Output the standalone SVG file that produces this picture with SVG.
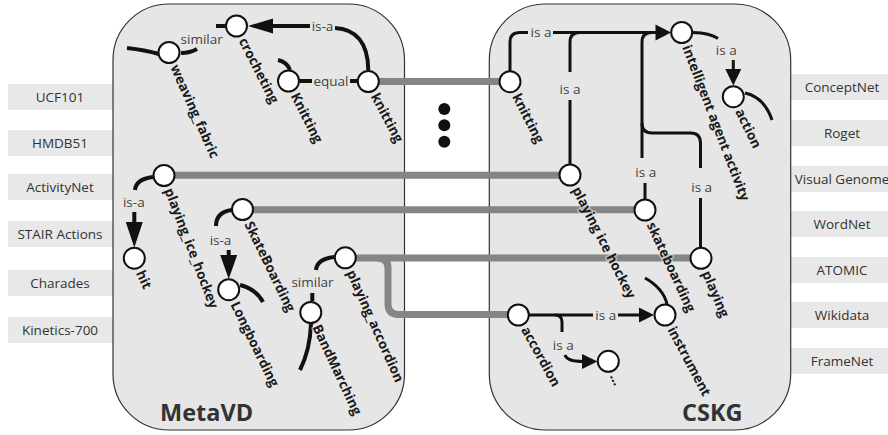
<svg xmlns="http://www.w3.org/2000/svg" width="888" height="435" viewBox="0 0 888 435">
<style>
.box{fill:#e8e8e8}
.boxt{font-family:"Open Sans","Noto Sans",sans-serif;font-size:13.5px;fill:#333;text-anchor:middle}
.panel{fill:#e6e6e6;stroke:#333;stroke-width:1.2}
.big{font-family:"Open Sans","Noto Sans",sans-serif;font-size:23.5px;font-weight:bold;fill:#333}
.grey{fill:none;stroke:#858585;stroke-width:7}
.e{fill:none;stroke:#111;stroke-width:4;stroke-linecap:butt}
.er{fill:none;stroke:#111;stroke-width:3}
.ah{fill:#111}
.n{fill:#fff;stroke:#111;stroke-width:2}
.nl{font-family:"Open Sans","Noto Sans",sans-serif;font-size:13.5px;font-weight:bold;fill:#1a1a1a;paint-order:stroke;stroke:#e6e6e6;stroke-opacity:0.55;stroke-width:3;stroke-linejoin:round}
.el{font-family:"Open Sans","Noto Sans",sans-serif;font-size:13.5px;fill:#444;text-anchor:middle}
</style>
<rect width="888" height="435" fill="#fff"/>
<g id="sources-left">
<rect class="box" x="8" y="84" width="110" height="26"/><text class="boxt" x="60" y="102">UCF101</text>
<rect class="box" x="8" y="130" width="110" height="26"/><text class="boxt" x="60" y="148">HMDB51</text>
<rect class="box" x="8" y="174" width="110" height="26"/><text class="boxt" x="60" y="192">ActivityNet</text>
<rect class="box" x="8" y="221" width="110" height="26"/><text class="boxt" x="60" y="239">STAIR Actions</text>
<rect class="box" x="8" y="270" width="110" height="26"/><text class="boxt" x="60" y="288">Charades</text>
<rect class="box" x="8" y="317" width="110" height="26"/><text class="boxt" x="60" y="335">Kinetics-700</text>
</g>
<g id="sources-right">
<rect class="box" x="785" y="74" width="115" height="26"/><text class="boxt" x="842" y="92">ConceptNet</text>
<rect class="box" x="785" y="120" width="115" height="26"/><text class="boxt" x="842" y="138">Roget</text>
<rect class="box" x="785" y="166" width="115" height="26"/><text class="boxt" x="842" y="184">Visual Genome</text>
<rect class="box" x="785" y="211" width="115" height="26"/><text class="boxt" x="842" y="229">WordNet</text>
<rect class="box" x="785" y="257" width="115" height="26"/><text class="boxt" x="842" y="275">ATOMIC</text>
<rect class="box" x="785" y="302" width="115" height="26"/><text class="boxt" x="842" y="320">Wikidata</text>
<rect class="box" x="785" y="348" width="115" height="26"/><text class="boxt" x="842" y="366">FrameNet</text>
</g>
<g id="panel-metavd">
<rect class="panel" x="113" y="4" width="291.5" height="426" rx="56" ry="56"/>
<text class="big" x="160" y="421">MetaVD</text>
</g>
<g id="panel-cskg">
<rect class="panel" x="489.3" y="4" width="301.4" height="426" rx="56" ry="56"/>
<text class="big" x="682" y="421">CSKG</text>
</g>
<g id="ellipsis">
<circle cx="444.3" cy="109" r="6" fill="#111"/>
<circle cx="444.3" cy="125.3" r="6" fill="#111"/>
<circle cx="444.3" cy="141.7" r="6" fill="#111"/>
</g>
<g id="connectors">
<path class="grey" d="M368.3,81.5 H510"/>
<path class="grey" d="M164,175.3 H570"/>
<path class="grey" d="M242.5,209.8 H645"/>
<path class="grey" d="M345.3,258 H701"/>
<path class="grey" d="M377,258 Q388,258 388,268 V304 Q388,314 398,314.5 H518.3"/>
<path class="e" d="M335,28 C355,29 368,42 368.3,70"/>
<path class="e" d="M310,26 H270"/>
<polygon class="ah" points="248,26 273,18.5 273,33.5"/>
<path class="e" d="M216,26 H226"/>
<path class="e" d="M181,53 Q190,53 197,49"/>
<path class="e" d="M127,48 Q145,50 159,54"/>
<path class="e" d="M278,60 Q287,62 290,70"/>
<path class="e" d="M300,81 H312 M350,81 H357"/>
<path class="e" d="M135,190 Q136,179 153,177"/>
<path class="e" d="M134.3,212 V223"/>
<polygon class="ah" points="134.3,247.5 125.8,222 142.8,222"/>
<path class="e" d="M216,226 Q216,212 232,210"/>
<path class="e" d="M228.7,250 V256"/>
<polygon class="ah" points="228.7,279 220.2,255 237.2,255"/>
<path class="e" d="M240,285 Q256,289 263,302"/>
<path class="e" d="M316,270 Q317,259 334,257"/>
<path class="e" d="M312.3,293 V301"/>
<path class="e" d="M311,324 Q310,350 300,370"/>
<path class="er" d="M510,71 V42 Q510,32.5 520,32.5 H528 M553,32.5 H657"/>
<path class="er" d="M570,164 V100 M570,72 V42 Q570,32.5 580,32.5 H600"/>
<path class="er" d="M645,199 V183 M642,158 V42 Q642,32.5 652,32.5 H657"/>
<path class="er" d="M700.5,247 V198 M700.5,168 V143 Q700.5,133 690.5,133 H652 Q642,133 642,123"/>
<polygon class="ah" points="671,32.5 655.5,24.5 655.5,40.5"/>
<path class="er" d="M693,32.5 Q710,33 718,38.5"/>
<path class="er" d="M733.3,60 V70"/>
<polygon class="ah" points="733.3,85.5 725.3,69 741.3,69"/>
<path class="er" d="M745,93 Q764,97 772,120"/>
<path class="er" d="M529,315 H593 M618,315 H640"/>
<polygon class="ah" points="654,315 639,307.5 639,322.5"/>
<path class="er" d="M555,315 Q562,315 562,322 V332"/>
<path class="er" d="M565,355 Q567,361.5 583,361.5"/>
<polygon class="ah" points="597.5,361.5 582,354 582,369"/>
<path class="er" d="M645,278 Q663,288 667,304"/>
</g>
<g id="edge-labels">
<text class="el" x="322.5" y="30.5">is-a</text>
<text class="el" x="201.7" y="44">similar</text>
<text class="el" x="331" y="85.5">equal</text>
<text class="el" x="133.8" y="206.5">is-a</text>
<text class="el" x="220.5" y="245">is-a</text>
<text class="el" x="312.5" y="286.5">similar</text>
<text class="el" x="541" y="37">is a</text>
<text class="el" x="570" y="93.5">is a</text>
<text class="el" x="645.8" y="176.5">is a</text>
<text class="el" x="701.7" y="191.5">is a</text>
<text class="el" x="726.3" y="54.5">is a</text>
<text class="el" x="605.8" y="319.5">is a</text>
<text class="el" x="563.3" y="349.5">is a</text>
</g>
<g id="n-crocheting"><circle class="n" cx="236.5" cy="26" r="10.5"/><text class="nl" transform="translate(236.5,26) rotate(63)" x="14" y="5">crocheting</text></g>
<g id="n-weaving_fabric"><circle class="n" cx="169" cy="52.5" r="10.5"/><text class="nl" transform="translate(169,52.5) rotate(66)" x="14" y="5">weaving_fabric</text></g>
<g id="n-Knitting"><circle class="n" cx="288.5" cy="81" r="10.5"/><text class="nl" transform="translate(288.5,81) rotate(63)" x="14" y="5">Knitting</text></g>
<g id="n-knitting-m"><circle class="n" cx="368.3" cy="81.5" r="10.5"/><text class="nl" transform="translate(368.3,81.5) rotate(62)" x="14" y="5">knitting</text></g>
<g id="n-playing_ice_hockey"><circle class="n" cx="164" cy="175.5" r="10.5"/><text class="nl" transform="translate(164,175.5) rotate(69)" x="14" y="5">playing_ice_hockey</text></g>
<g id="n-hit"><circle class="n" cx="134.3" cy="258.2" r="10.5"/><text class="nl" transform="translate(134.3,258.2) rotate(65)" x="14" y="5">hit</text></g>
<g id="n-SkateBoarding"><circle class="n" cx="242.5" cy="209.5" r="10.5"/><text class="nl" transform="translate(242.5,209.5) rotate(64)" x="14" y="5">SkateBoarding</text></g>
<g id="n-Longboarding"><circle class="n" cx="228.7" cy="289.7" r="10.5"/><text class="nl" transform="translate(228.7,289.7) rotate(64)" x="14" y="5">Longboarding</text></g>
<g id="n-playing_accordion"><circle class="n" cx="345.3" cy="257.8" r="10.5"/><text class="nl" transform="translate(345.3,257.8) rotate(66)" x="14" y="5">playing_accordion</text></g>
<g id="n-BandMarching"><circle class="n" cx="310.8" cy="312.5" r="10.5"/><text class="nl" transform="translate(310.8,312.5) rotate(65)" x="14" y="5">BandMarching</text></g>
<g id="n-knitting-c"><circle class="n" cx="510" cy="81.7" r="10.5"/><text class="nl" transform="translate(510,81.7) rotate(63)" x="14" y="5">knitting</text></g>
<g id="n-intelligent"><circle class="n" cx="681.7" cy="32.5" r="10.5"/><text class="nl" transform="translate(681.7,32.5) rotate(69)" x="14" y="5">intelligent agent activity</text></g>
<g id="n-action"><circle class="n" cx="733.3" cy="96.7" r="10.5"/><text class="nl" transform="translate(733.3,96.7) rotate(64)" x="14" y="5">action</text></g>
<g id="n-playing-ice-hockey"><circle class="n" cx="570" cy="175" r="10.5"/><text class="nl" transform="translate(570,175) rotate(63)" x="14" y="5">playing ice hockey</text></g>
<g id="n-skateboarding"><circle class="n" cx="645" cy="210" r="10.5"/><text class="nl" transform="translate(645,210) rotate(65)" x="14" y="5">skateboarding</text></g>
<g id="n-playing"><circle class="n" cx="701" cy="258.3" r="10.5"/><text class="nl" transform="translate(701,258.3) rotate(67)" x="14" y="5">playing</text></g>
<g id="n-accordion"><circle class="n" cx="518.3" cy="315" r="10.5"/><text class="nl" transform="translate(518.3,315) rotate(61)" x="14" y="5">accordion</text></g>
<g id="n-instrument"><circle class="n" cx="665" cy="315" r="10.5"/><text class="nl" transform="translate(665,315) rotate(62)" x="14" y="5">instrument</text></g>
<g id="n-more"><circle class="n" cx="608.3" cy="361.3" r="10.5"/><text class="nl" transform="translate(608.3,361.3) rotate(65)" x="14" y="5">...</text></g>
</svg>
